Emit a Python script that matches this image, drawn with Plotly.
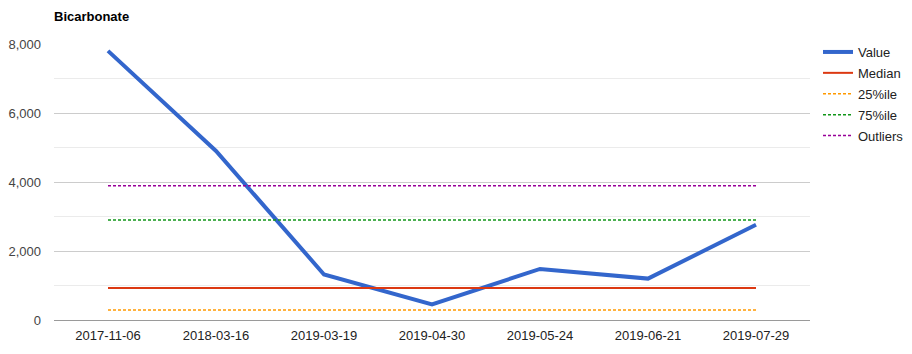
import plotly.graph_objects as go

dates = ["2017-11-06", "2018-03-16", "2019-03-19", "2019-04-30", "2019-05-24", "2019-06-21", "2019-07-29"]
values = [7800, 4900, 1320, 450, 1480, 1200, 2760]
median_val = 930
p25_val = 290
p75_val = 2900
outlier_val = 3890

fig = go.Figure()
fig.add_trace(go.Scatter(x=dates, y=values, mode="lines", name="Value",
                         line=dict(color="#3366cc", width=4), legendgroup="a"))
fig.add_trace(go.Scatter(x=dates, y=[median_val] * len(dates), mode="lines", name="Median",
                         line=dict(color="#dc3912", width=2), legendgroup="b"))
fig.add_trace(go.Scatter(x=dates, y=[p25_val] * len(dates), mode="lines", name="25%ile",
                         line=dict(color="#ff9900", width=1.5, dash="3px,2px"), legendgroup="c"))
fig.add_trace(go.Scatter(x=dates, y=[p75_val] * len(dates), mode="lines", name="75%ile",
                         line=dict(color="#109618", width=1.5, dash="3px,2px"), legendgroup="d"))
fig.add_trace(go.Scatter(x=dates, y=[outlier_val] * len(dates), mode="lines", name="Outliers",
                         line=dict(color="#990099", width=1.5, dash="3px,2px"), legendgroup="e"))

fig.update_layout(
    width=912, height=354,
    margin=dict(l=54, r=102, t=44, b=34, autoexpand=False),
    paper_bgcolor="white", plot_bgcolor="white",
    font=dict(family="Liberation Sans, Arial", size=13, color="#222222"),
    title=dict(text="<b>Bicarbonate</b>", xref="container", yref="container",
               x=54 / 912, xanchor="left", y=1 - 16 / 354, yanchor="middle",
               font=dict(size=13, color="#000000")),
    showlegend=True,
    legend=dict(xref="container", yref="container", x=818 / 912, xanchor="left",
                y=1 - 37 / 354, yanchor="top",
                font=dict(size=13, color="#222222"), tracegroupgap=1,
                itemwidth=30, bgcolor="rgba(0,0,0,0)"),
    xaxis=dict(type="category", range=[-0.5, len(dates) - 0.5], showgrid=False,
               ticks="", showline=False, ticklabelstandoff=6,
               tickfont=dict(size=13, color="#222222")),
    yaxis=dict(range=[0, 8000], tick0=0, dtick=2000, tickformat=",",
               gridcolor="#cccccc", gridwidth=1,
               minor=dict(tick0=0, dtick=1000, showgrid=True, gridcolor="#ebebeb", gridwidth=1),
               zeroline=True, zerolinecolor="#9a9a9a", zerolinewidth=1,
               tickfont=dict(size=13, color="#444444"), ticks="", ticklabelstandoff=12),
)

fig.write_html("out.html")
